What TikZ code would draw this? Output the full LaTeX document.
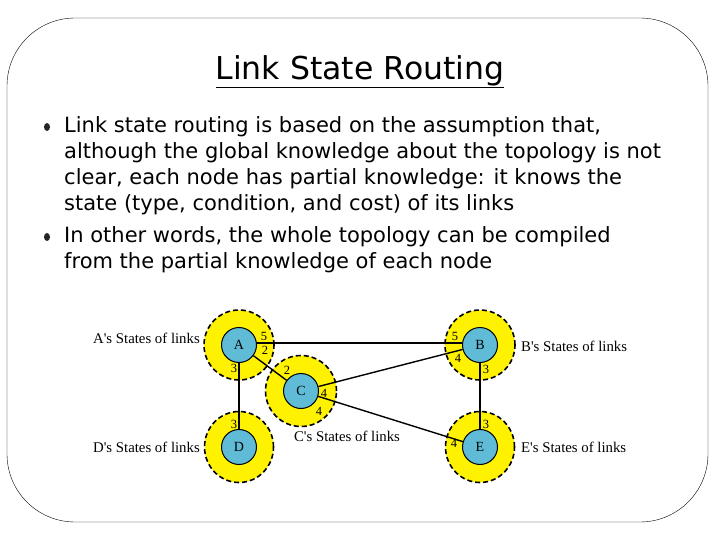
\documentclass[tikz,border=0pt]{standalone}
\usepackage{fontspec}
\setmainfont{Liberation Serif}
\newfontfamily\slidefont{DejaVu Sans}
\usetikzlibrary{positioning,shapes.geometric}
\definecolor{routerblue}{RGB}{96,188,214}

\begin{document}
\begin{tikzpicture}[x=1pt, y=-1pt,
    router/.style={circle, draw=black, fill=routerblue, minimum size=35pt, inner sep=0pt, font=\fontsize{14}{14}\selectfont, line width=1pt},
    scope/.style={circle, draw=black, fill=yellow, minimum size=70pt, line width=1.6pt, dash pattern=on 5pt off 3pt},
    statelabel/.style={font=\fontsize{14.8}{15}\selectfont, inner sep=0pt},
    cost/.style={font=\fontsize{12.5}{12}\selectfont, inner sep=0pt},
    link/.style={line width=1.4pt, black},
    bulletline/.style={font=\slidefont\fontsize{21}{26}\selectfont, anchor=north west, inner sep=0pt, align=left},
    dot/.style={ellipse, fill=black!85, minimum width=6pt, minimum height=8pt, inner sep=0pt}
]
\useasboundingbox (0,0) rectangle (720,540);

% Slide frame
\draw[thin, rounded corners=68pt] (7,18) rectangle (708,522);

% Title
\node[font=\slidefont\fontsize{31.5}{32}\selectfont, inner sep=0pt] (title) at (360,72) {\underline{Link State Routing}};

% Bullets
\node[dot] (b1) at (47,127) {};
\node[bulletline] (t1) at (64,116) {Link state routing is based on the assumption that,\\although the global knowledge about the topology is not\\clear, each node has partial knowledge: it knows the\\state (type, condition, and cost) of its links};
\node[dot] (b2) at (47,237) {};
\node[bulletline] (t2) at (64,226) {In other words, the whole topology can be compiled\\from the partial knowledge of each node};

% Scopes
\node[scope] (sa) at (239,345) {};
\node[scope] (sb) at (480,345) {};
\node[scope, minimum size=71pt] (sc) at (301,391) {};
\node[scope, minimum width=69pt, minimum height=71pt, ellipse] (sd) at (239,447) {};
\node[scope, minimum width=69pt, minimum height=71pt, ellipse] (se) at (480,447) {};

% Routers
\node[router] (A) at (239,345) {A};
\node[router] (B) at (480,345) {B};
\node[router] (C) at (301,391) {C};
\node[router] (D) at (239,447) {D};
\node[router] (E) at (480,447) {E};

% Links
\draw[link] (A.east |- 0,343) -- (B.west |- 0,343);
\draw[link] (A) -- (C);
\draw[link] (A) -- (D);
\draw[link] (C) -- (B);
\draw[link] (C) -- (E);
\draw[link] (B) -- (E);

% Costs
\node[cost] (a5) at (264,336) {5};
\node[cost] (a2) at (265,350) {2};
\node[cost] (a3) at (234,368) {3};
\node[cost] (bb5) at (455,336) {5};
\node[cost] (bb4) at (458,358) {4};
\node[cost] (bb3) at (486,369) {3};
\node[cost] (c2) at (287,370) {2};
\node[cost] (c4a) at (324,393) {4};
\node[cost] (c4b) at (319,411) {4};
\node[cost] (d3) at (234,424) {3};
\node[cost] (e3) at (486,424) {3};
\node[cost] (e4) at (454,443) {4};

% States of links
\node[statelabel, anchor=east] (la) at (200,338) {A\textquotesingle s States of links};
\node[statelabel, anchor=west] (lb) at (521,346) {B\textquotesingle s States of links};
\node[statelabel] (lc) at (347,436) {C\textquotesingle s States of links};
\node[statelabel, anchor=east] (ld) at (200,447) {D\textquotesingle s States of links};
\node[statelabel, anchor=west] (le) at (521,447) {E\textquotesingle s States of links};

\end{tikzpicture}
\end{document}
